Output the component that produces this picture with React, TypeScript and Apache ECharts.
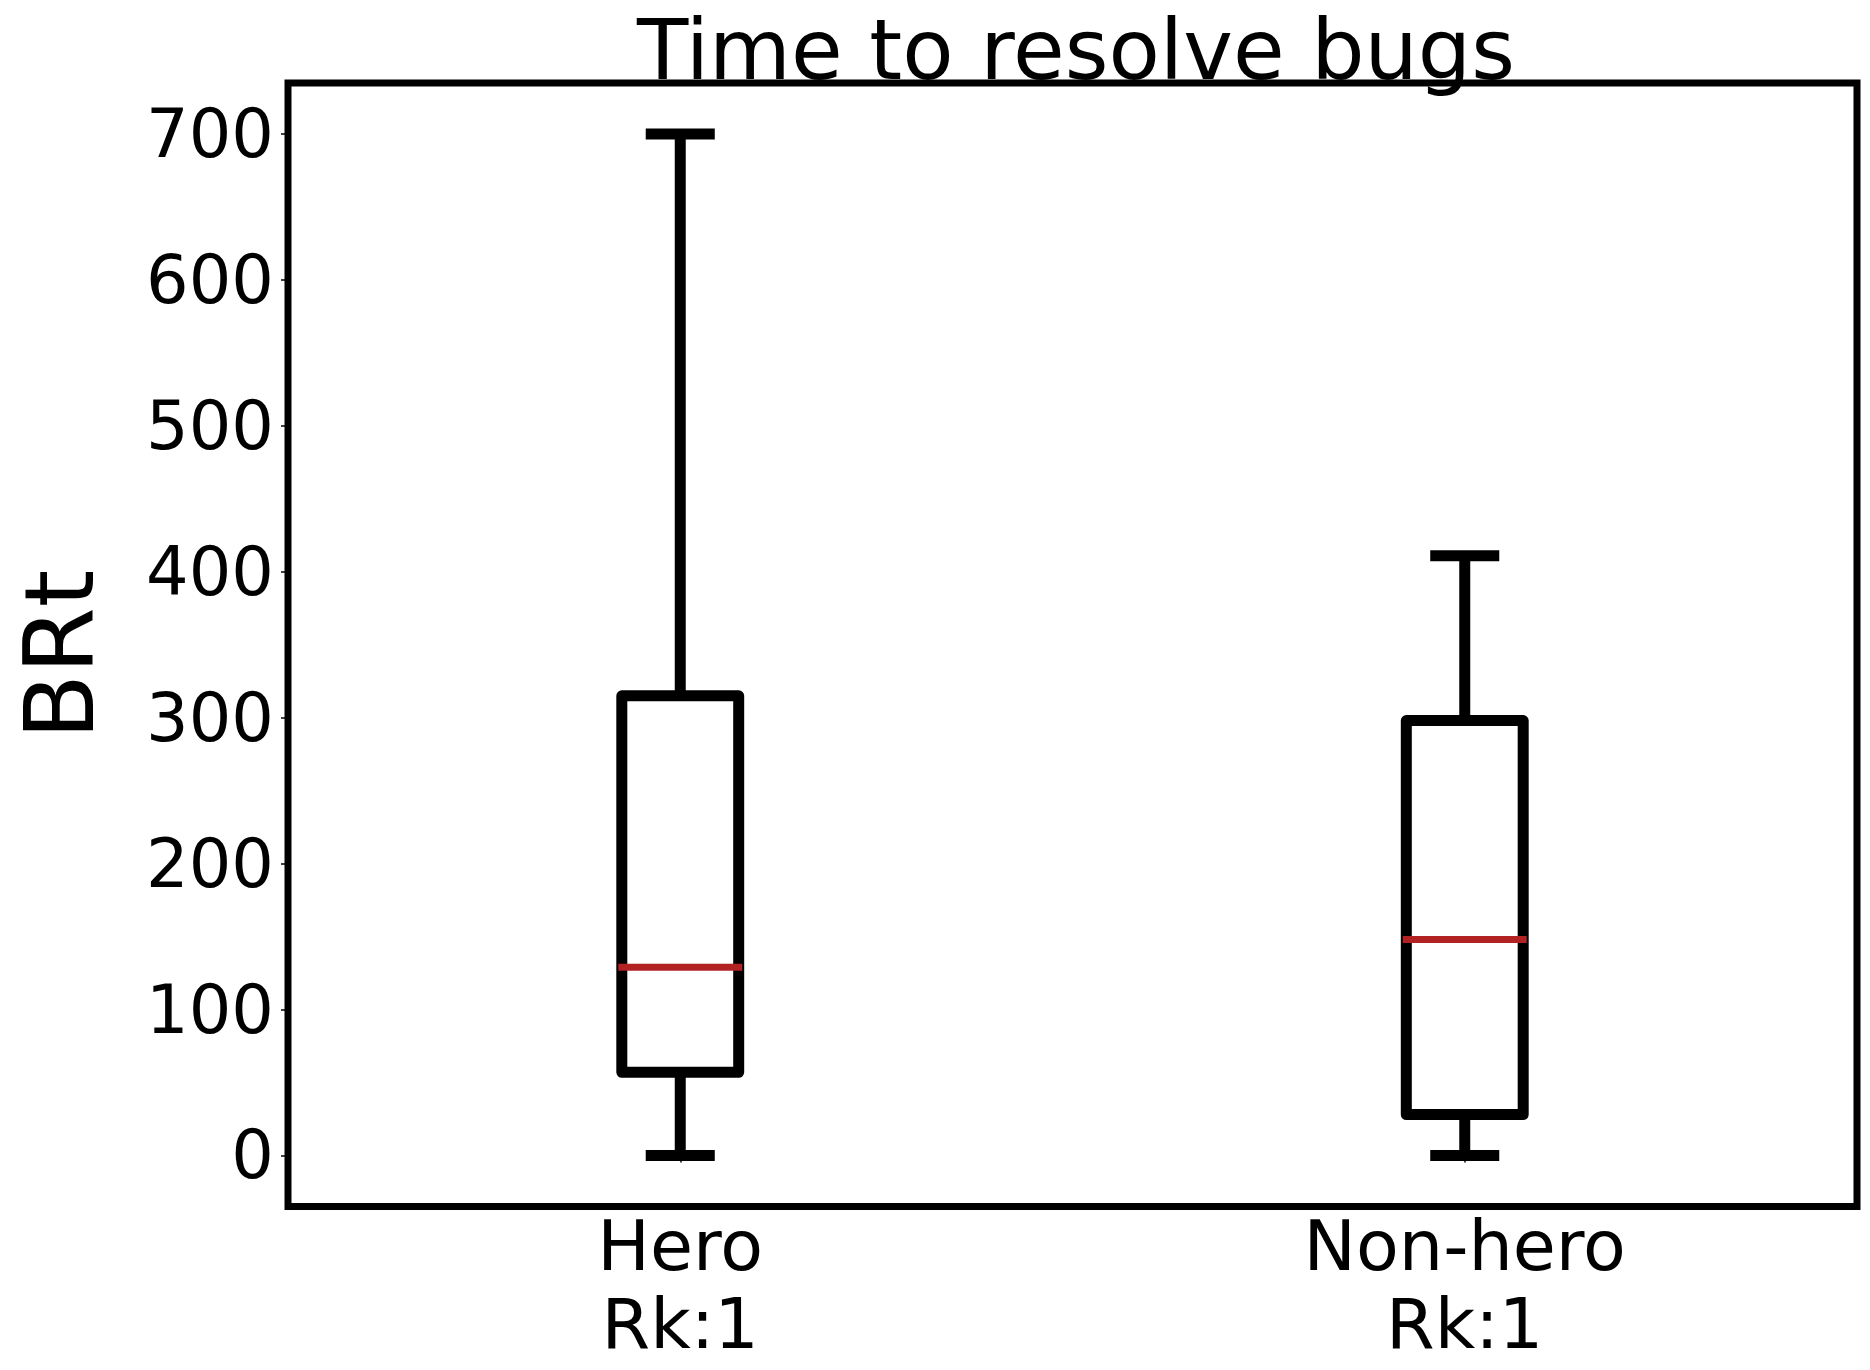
import React, { useEffect, useRef } from "react";
import * as echarts from "echarts";

const categories = ["Hero\nRk:1", "Non-hero\nRk:1"];
// [lower whisker, Q1, median, Q3, upper whisker]
const heroStats = [0, 57, 129, 315, 700];
const nonHeroStats = [0, 28, 148, 298, 411];
const yTicks = [0, 100, 200, 300, 400, 500, 600, 700];
const titleText = "Time to resolve bugs";
const yAxisName = "BRt";

const FONT = "DejaVu Sans";

export default function App() {
  const ref = useRef<HTMLDivElement>(null);

  useEffect(() => {
    document.body.style.margin = "0";
    document.body.style.overflow = "hidden";
    if (!ref.current) return;
    const chart = echarts.init(ref.current, null, { renderer: "svg" });

    const stats = [heroStats, nonHeroStats];
    const data = stats.map((s, i) => [i, ...s]);

    const option: any = {
      animation: false,
      backgroundColor: "#ffffff",
      title: {
        text: titleText,
        left: 1071,
        top: 3,
        padding: 5,
        textAlign: "center",
        textStyle: {
          fontFamily: FONT,
          fontSize: 84,
          fontWeight: "normal",
          color: "#000",
        },
      },
      grid: {
        left: 288,
        right: 13,
        top: 83,
        bottom: 163.5,
        show: true,
        borderColor: "#000",
        borderWidth: 7,
        backgroundColor: "transparent",
        containLabel: false,
      },
      xAxis: {
        type: "category",
        data: categories,
        boundaryGap: true,
        axisLine: { show: false },
        axisTick: {
          show: true,
          alignWithLabel: true,
          length: 7,
          lineStyle: { color: "#000", width: 1.5 },
        },
        axisLabel: {
          fontFamily: FONT,
          fontSize: 70,
          color: "#000",
          lineHeight: 78,
          margin: 0,
          interval: 0,
        },
        splitLine: { show: false },
      },
      yAxis: {
        type: "value",
        min: -35,
        max: 735,
        name: yAxisName,
        nameLocation: "middle",
        nameRotate: 90,
        nameGap: 180,
        nameTextStyle: {
          fontFamily: FONT,
          fontSize: 96,
          color: "#000",
          padding: [0, 20, 0, 0],
        },
        axisLine: { show: false },
        axisTick: {
          show: true,
          length: 7,
          lineStyle: { color: "#000", width: 1.5 },
          customValues: yTicks,
        },
        axisLabel: {
          fontFamily: FONT,
          fontSize: 67,
          color: "#000",
          margin: 14,
          customValues: yTicks,
        },
        splitLine: { show: false },
      },
      series: [
        {
          type: "custom",
          data,
          encode: { x: 0, y: [1, 2, 3, 4, 5] },
          renderItem: (params: any, api: any) => {
            const idx = api.value(0);
            const low = api.value(1);
            const q1 = api.value(2);
            const med = api.value(3);
            const q3 = api.value(4);
            const high = api.value(5);
            const xc = api.coord([idx, 0])[0];
            const y = (v: number) => api.coord([idx, v])[1];
            const band = api.size([1, 0])[0];
            const halfBox = (band * 0.149) / 2;
            const halfCap = (band * 0.088) / 2;
            const lw = 11;
            const black = { stroke: "#000", lineWidth: lw, fill: "none" };
            return {
              type: "group",
              children: [
                {
                  type: "line",
                  shape: { x1: xc, y1: y(low), x2: xc, y2: y(q1) },
                  style: { ...black, lineCap: "butt" },
                },
                {
                  type: "line",
                  shape: { x1: xc, y1: y(q3), x2: xc, y2: y(high) },
                  style: { ...black, lineCap: "butt" },
                },
                {
                  type: "line",
                  shape: { x1: xc - halfCap, y1: y(low), x2: xc + halfCap, y2: y(low) },
                  style: { ...black, lineCap: "butt" },
                },
                {
                  type: "line",
                  shape: { x1: xc - halfCap, y1: y(high), x2: xc + halfCap, y2: y(high) },
                  style: { ...black, lineCap: "butt" },
                },
                {
                  type: "rect",
                  shape: {
                    x: xc - halfBox,
                    y: y(q3),
                    width: halfBox * 2,
                    height: y(q1) - y(q3),
                  },
                  style: { stroke: "#000", lineWidth: lw, fill: "#fff", lineJoin: "round" },
                },
                {
                  type: "line",
                  shape: { x1: xc - halfBox, y1: y(med), x2: xc + halfBox, y2: y(med) },
                  style: { stroke: "#b22222", lineWidth: 7, lineCap: "square" },
                },
              ],
            };
          },
        },
      ],
    };

    chart.setOption(option);
    return () => {
      chart.dispose();
    };
  }, []);

  return <div ref={ref} style={{ width: 1870, height: 1370 }} />;
}
